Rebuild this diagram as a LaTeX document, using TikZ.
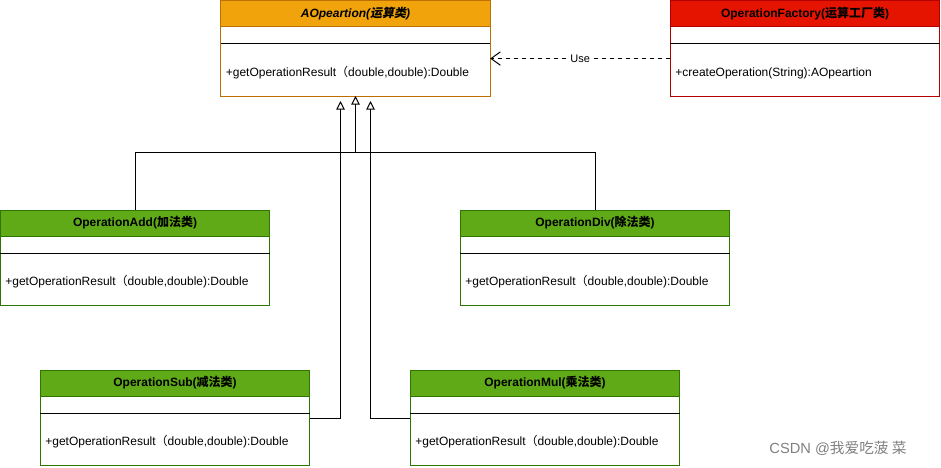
\documentclass[tikz,border=0pt]{standalone}
\usepackage{fontspec}
\setmainfont{Liberation Sans}
\newfontfamily\cjk{Noto Sans CJK SC}
\newfontfamily\cjkslant[FakeSlant=0.2]{Noto Sans CJK SC}
\usepackage{xcolor}
\usepackage{tikz}
\usetikzlibrary{arrows.meta, positioning, calc}
\definecolor{headorange}{HTML}{F0A30A}
\definecolor{edgeorange}{HTML}{BD7000}
\definecolor{headred}{HTML}{E51400}
\definecolor{edgered}{HTML}{B20000}
\definecolor{headgreen}{HTML}{60A917}
\definecolor{edgegreen}{HTML}{2D7600}
\tikzstyle{classhead} = [rectangle, minimum width=202pt, minimum height=19.5pt, inner sep=0pt, outer sep=0pt, text centered, draw, font=\fontsize{9}{11}\selectfont\bfseries]
\tikzstyle{classgap} = [rectangle, minimum width=202pt, minimum height=12.75pt, inner sep=0pt, outer sep=0pt, draw, fill=white]
\tikzstyle{classbody} = [rectangle, text width=194.5pt, inner xsep=3.75pt, outer sep=0pt, minimum height=39pt, text height=11.5pt, text depth=2pt, align=left, draw, fill=white, font=\fontsize{9}{11}\selectfont]
\tikzstyle{inherit} = [-{Triangle[open, length=6.5pt, width=6.5pt]}]
\tikzstyle{uses} = [dashed, -{Straight Barb[length=7pt, width=10pt]}]

\begin{document}
\begin{tikzpicture}[x=0.75pt, y=-0.75pt, line width=0.75pt]
\useasboundingbox (0,0) rectangle (941,467);

% abstract operation
\node [classhead, fill=headorange, draw=edgeorange, font=\fontsize{9}{11}\selectfont\bfseries\itshape] (ahead) at (355.5,14) {AOpeartion({\cjkslant\bfseries 运算类})};
\node [classgap, draw=edgeorange, below=0pt of ahead] (agap) {};
\node [classbody, draw=edgeorange, below=0pt of agap] (abody) {+getOperationResult{\cjk （}double,double):Double};
\draw (agap.south west) -- (agap.south east);

% factory
\node [classhead, fill=headred, draw=edgered] (fhead) at (805,14) {OperationFactory({\cjk\bfseries 运算工厂类})};
\node [classgap, draw=edgered, below=0pt of fhead] (fgap) {};
\node [classbody, draw=edgered, below=0pt of fgap] (fbody) {+createOperation(String):AOpeartion};
\draw (fgap.south west) -- (fgap.south east);

% add
\node [classhead, fill=headgreen, draw=edgegreen] (addhead) at (135,223) {OperationAdd({\cjk\bfseries 加法类})};
\node [classgap, draw=edgegreen, below=0pt of addhead] (addgap) {};
\node [classbody, draw=edgegreen, below=0pt of addgap] (addbody) {+getOperationResult{\cjk （}double,double):Double};
\draw (addgap.south west) -- (addgap.south east);

% div
\node [classhead, fill=headgreen, draw=edgegreen] (divhead) at (595,223) {OperationDiv({\cjk\bfseries 除法类})};
\node [classgap, draw=edgegreen, below=0pt of divhead] (divgap) {};
\node [classbody, draw=edgegreen, below=0pt of divgap] (divbody) {+getOperationResult{\cjk （}double,double):Double};
\draw (divgap.south west) -- (divgap.south east);

% sub
\node [classhead, fill=headgreen, draw=edgegreen] (subhead) at (175,383) {OperationSub({\cjk\bfseries 减法类})};
\node [classgap, draw=edgegreen, below=0pt of subhead] (subgap) {};
\node [classbody, draw=edgegreen, below=0pt of subgap] (subbody) {+getOperationResult{\cjk （}double,double):Double};
\draw (subgap.south west) -- (subgap.south east);

% mul
\node [classhead, fill=headgreen, draw=edgegreen] (mulhead) at (545,383) {OperationMul({\cjk\bfseries 乘法类})};
\node [classgap, draw=edgegreen, below=0pt of mulhead] (mulgap) {};
\node [classbody, draw=edgegreen, below=0pt of mulgap] (mulbody) {+getOperationResult{\cjk （}double,double):Double};
\draw (mulgap.south west) -- (mulgap.south east);

% connectors
\coordinate (bus) at ($(abody.south)+(0,56)$);
\draw [inherit] (addhead.north) |- (bus) -- (abody.south);
\draw (divhead.north) |- (bus);
\draw [inherit] ([yshift=-3.75pt]subbody.north east) -| ([xshift=-11.25pt, yshift=-3.75pt]abody.south);
\draw [inherit] ([yshift=-3.75pt]mulbody.north west) -| ([xshift=11.25pt, yshift=-3.75pt]abody.south);
\draw [uses] ([yshift=8.6pt]fbody.west) -- ([yshift=8.6pt]abody.east) node [midway, fill=white, inner sep=1pt, font=\fontsize{8.25}{10}\selectfont] {Use};

\node [text=gray, font=\fontsize{11}{13}\selectfont] (mark) at (838,448) {CSDN @{\cjk 我爱吃菠 菜}};
\end{tikzpicture}
\end{document}
